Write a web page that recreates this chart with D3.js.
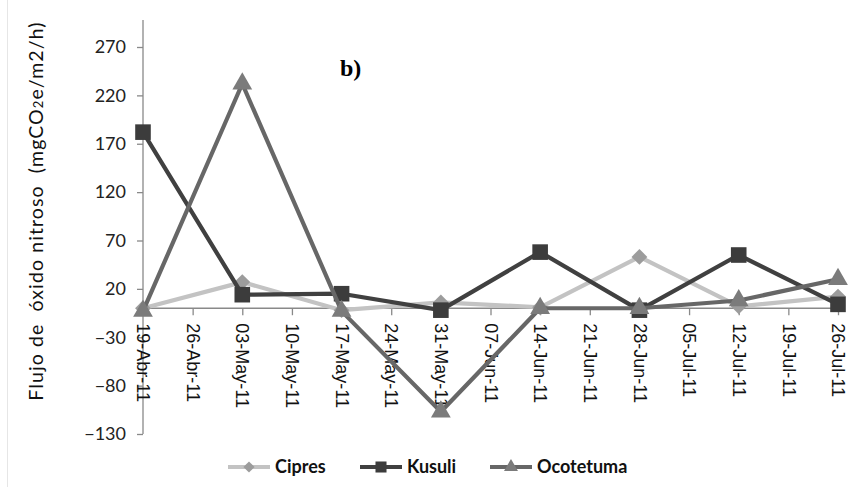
<!DOCTYPE html>
<html><head><meta charset="utf-8">
<script src="https://cdn.jsdelivr.net/npm/d3@7"></script>
<style>body{margin:0;background:#fff}svg{display:block}</style>
</head><body>
<svg id="c" width="859" height="487"></svg>
<script>
const sampleDates = ["2011-04-19","2011-05-03","2011-05-17","2011-05-31","2011-06-14","2011-06-28","2011-07-12","2011-07-26"];
const cipres    = [0, 27, -2, 6, 1, 53, 2, 12];
const kusuli    = [182, 14, 15, -2, 58, -2, 55, 4];
const ocotetuma = [-3, 232, -3, -107, 0, 0, 8, 30];
const seriesNames = ["Cipres","Kusuli","Ocotetuma"];
const yTicks = [-130,-80,-30,20,70,120,170,220,270];
const xTickDates = ["2011-04-19","2011-04-26","2011-05-03","2011-05-10","2011-05-17","2011-05-24","2011-05-31","2011-06-07","2011-06-14","2011-06-21","2011-06-28","2011-07-05","2011-07-12","2011-07-19","2011-07-26"];
const xTickLabels = ["19-Abr-11","26-Abr-11","03-May-11","10-May-11","17-May-11","24-May-11","31-May-11","07-Jun-11","14-Jun-11","21-Jun-11","28-Jun-11","05-Jul-11","12-Jul-11","19-Jul-11","26-Jul-11"];

const parse = d3.utcParse("%Y-%m-%d");
const svg = d3.select("#c");
const x = d3.scaleUtc().domain([parse(xTickDates[0]), parse(xTickDates[xTickDates.length-1])]).range([143, 838]);
const y = d3.scaleLinear().domain([-130, 270]).range([434, 47]);

// faint chart border (left edge)
svg.append("line").attr("x1",7.5).attr("x2",7.5).attr("y1",0).attr("y2",487)
  .attr("stroke","#e6e6e6").attr("stroke-width",1);

// Y axis
const yAxis = d3.axisLeft(y).tickValues(yTicks).tickSize(6).tickPadding(11).tickFormat(d3.format("d"));
const gy = svg.append("g").attr("transform","translate(143,0)").call(yAxis);
gy.select(".domain").remove();
gy.append("line").attr("x1",0).attr("x2",0).attr("y1",20).attr("y2",434).attr("stroke","#898989").attr("stroke-width",1.3);
gy.selectAll(".tick line").attr("stroke","#898989").attr("stroke-width",1.3);
gy.selectAll(".tick text").attr("fill","#222").style("font-family","Lato, 'Open Sans', sans-serif").style("font-size","18px");

// X axis at y=0
const xAxis = d3.axisBottom(x).tickValues(xTickDates.map(parse)).tickSize(7)
  .tickFormat((d,i)=>xTickLabels[i]);
const gx = svg.append("g").attr("transform",`translate(0,${y(0)})`).call(xAxis);
gx.select(".domain").attr("stroke","#898989").attr("stroke-width",1.3).attr("d",`M143,0H838`);
gx.selectAll(".tick line").attr("stroke","#898989").attr("stroke-width",1.3);
gx.selectAll(".tick text")
  .attr("transform","rotate(90)").attr("text-anchor","start")
  .attr("x",15).attr("y",0).attr("dy","0.35em")
  .attr("fill","#111").style("font-family","'Liberation Sans', Arial, sans-serif").style("font-size","18px");

// series
const dates = sampleDates.map(parse);
const series = [
  {name:seriesNames[0], vals:cipres, line:"#c3c3c3", mark:"#9c9c9c", sym:d3.symbolDiamond2, size:160},
  {name:seriesNames[1], vals:kusuli, line:"#404040", mark:"#3c3c3c", sym:d3.symbolSquare2, size:310},
  {name:seriesNames[2], vals:ocotetuma, line:"#676767", mark:"#7b7b7b", sym:d3.symbolTriangle2, size:280}
];
const line = d3.line().x(d=>x(d[0])).y(d=>y(d[1]));
series.forEach(s=>{
  const pts = dates.map((d,i)=>[d, s.vals[i]]);
  const g = svg.append("g");
  g.append("path").attr("d",line(pts)).attr("fill","none").attr("stroke",s.line).attr("stroke-width",4.2).attr("stroke-linejoin","round");
  g.selectAll("path.m").data(pts).join("path").attr("class","m")
    .attr("transform",d=>`translate(${x(d[0])},${y(d[1])})`)
    .attr("d",d3.symbol().type(s.sym).size(s.size)).attr("fill",s.mark).attr("stroke","none");
});

// Y title
const yt = svg.append("text").attr("transform","translate(43,211) rotate(-90)").attr("text-anchor","middle")
  .attr("xml:space","preserve").style("white-space","pre").style("letter-spacing","1.1px")
  .style("font-family","Lato, 'Open Sans', sans-serif").style("font-size","19.5px").attr("fill","#111");
yt.append("tspan").text("Flujo de  óxido nitroso  (mgCO");
yt.append("tspan").text("2").style("font-size","13px");
yt.append("tspan").text("e/m2/h)");

// b) label
svg.append("text").attr("x",340).attr("y",76).text("b)")
  .style("font-family","'Liberation Serif','Times New Roman',serif").style("font-weight","bold").style("font-size","24px").attr("fill","#000");

// legend
const legX = [228, 360, 490];
series.forEach((s,i)=>{
  const g = svg.append("g").attr("transform",`translate(${legX[i]},467)`);
  g.append("line").attr("x1",0).attr("x2",42).attr("stroke",s.line).attr("stroke-width",4.2);
  g.append("path").attr("transform","translate(21,0)").attr("d",d3.symbol().type(s.sym).size(s.size*0.5)).attr("fill",s.mark);
  g.append("text").attr("x",47).attr("y",0).attr("dy","0.35em").text(s.name)
    .style("font-family","Lato, 'Open Sans', sans-serif").style("font-weight","bold").style("font-size","18px").attr("fill","#111");
});
</script>
</body></html>
